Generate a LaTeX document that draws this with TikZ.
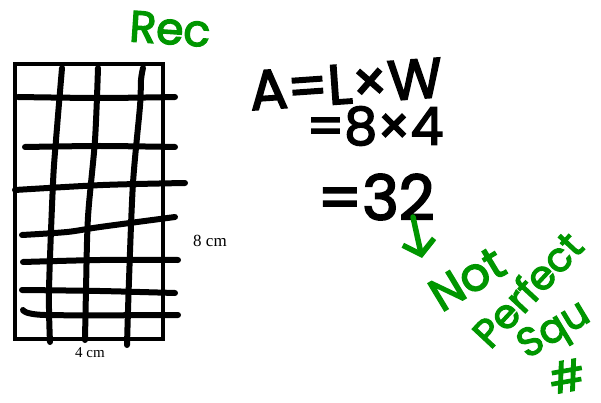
\documentclass[tikz,border=0pt]{standalone}
\usepackage{fontspec}
\setmainfont{Liberation Serif}
\newfontfamily\handfont[FakeBold=3]{Poppins}
\usetikzlibrary{arrows.meta}
\definecolor{penGreen}{RGB}{0,150,0}

\begin{document}
\begin{tikzpicture}[x=1pt, y=-1pt]

 \tikzset{
   ink/.style={draw=black, line width=6pt, line cap=round, line join=round},
   frame/.style={draw=black, line width=3.5pt},
   greenink/.style={draw=penGreen, line width=5.5pt, line cap=round, line join=round},
   hand/.style={font=\handfont, inner sep=0pt},
   dim/.style={font=\fontsize{15}{17}\selectfont, inner sep=0pt}
 }

 \useasboundingbox (0,0) rectangle (601,403);

 % Rectangle
 \draw[frame] (15,64) rectangle (163,339);

 % Vertical strokes
 \draw[ink] plot[smooth] coordinates {(62,68) (56,140) (53,183) (49,290) (50,342)};
 \draw[ink] plot[smooth] coordinates {(98,68) (95,140) (88,217) (86,290) (85,340)};
 \draw[ink] plot[smooth] coordinates {(143,68) (141,80) (140,106) (133,183) (129,280) (127,345)};

 % Horizontal strokes
 \draw[ink] plot[smooth] coordinates {(18,97) (100,98) (175,97)};
 \draw[ink] plot[smooth] coordinates {(25,147) (100,146) (175,147)};
 \draw[ink] plot[smooth] coordinates {(15,190) (103,185) (185,183)};
 \draw[ink] plot[smooth] coordinates {(22,235) (67,232) (100,227) (175,217)};
 \draw[ink] plot[smooth] coordinates {(23,262) (100,260) (178,260)};
 \draw[ink] plot[smooth] coordinates {(22,290) (100,291) (175,293)};
 \draw[ink] plot[smooth] coordinates {(23,310) (45,315) (178,315)};

 % Dimensions
 \node[dim] (width) at (90,353) {4 cm};
 \node[dim, font=\fontsize{17}{19}\selectfont] (height) at (210,241) {8 cm};

 % Working
 \node[hand, font=\handfont\fontsize{56}{56}\selectfont, rotate=4] (formula) at (346,84) {A=L×W};
 \node[hand, font=\handfont\fontsize{52}{52}\selectfont] (subst) at (375,126) {=8×4};
 \node[hand, font=\handfont\fontsize{62}{62}\selectfont] (result) at (376,197) {=32};

 % Notes in green
 \node[hand, text=penGreen, font=\handfont\fontsize{44}{44}\selectfont, rotate=-4] (rec) at (170,29) {Rec};
 \coordinate (arrTop) at (413,217);
 \coordinate (arrTip) at (422,258);
 \draw[greenink, -{Straight Barb[length=13pt, width=32pt, line width=5.5pt]}] (arrTop) -- (arrTip);
 \node[hand, text=penGreen, font=\handfont\fontsize{46}{46}\selectfont, rotate=31] (not) at (467,279) {Not};
 \node[hand, text=penGreen, font=\handfont\fontsize{40}{40}\selectfont, rotate=47] (perfect) at (527,289) {Perfect};
 \node[hand, text=penGreen, font=\handfont\fontsize{40}{40}\selectfont, rotate=31] (squ) at (555,332) {Squ};
 \node[hand, text=penGreen, font=\handfont\fontsize{42}{42}\selectfont, rotate=10] (hash) at (567,376) {\#};

\end{tikzpicture}
\end{document}
